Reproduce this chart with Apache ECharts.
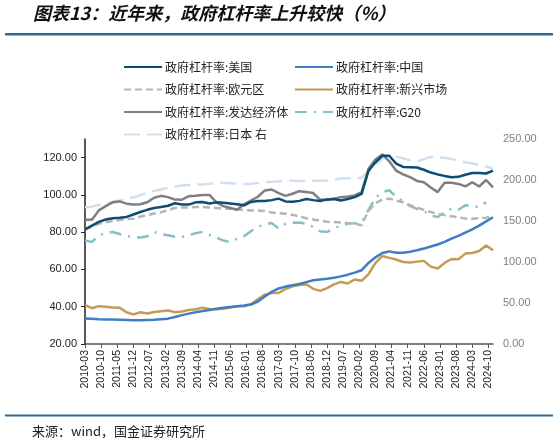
<!DOCTYPE html>
<html>
<head>
<meta charset="utf-8">
<script src="https://cdn.jsdelivr.net/npm/echarts@6.0.0/dist/echarts.min.js"></script>
<style>
  html, body { margin: 0; padding: 0; background: #fff; }
  #main { width: 559px; height: 447px; }
</style>
</head>
<body>
<div id="main"></div>
<script>
// quarterly values, 2010Q1 .. 2024Q4 (60 points)
const usData = [81.5, 83.5, 85.5, 86.8, 87.5, 87.8, 88.2, 89.5, 90.8, 92, 93, 93.5, 94.2, 95.5, 94.8, 94.8,
  96, 96.2, 95.4, 96, 95.8, 95.4, 95, 94.4, 96.2, 96.7, 96.7, 97.2, 98, 96.5, 96.3, 96.8,
  97.8, 97.2, 96.7, 97.6, 97.8, 97, 97.8, 98.8, 100.6, 113, 117.5, 121, 121, 116.8, 115, 114.9,
  114.7, 113.5, 112, 111, 110.2, 109.5, 109.7, 110.8, 111.8, 111.8, 111.5, 113];
const chinaData = [33.7, 33.5, 33.3, 33.2, 33.1, 33, 32.9, 32.8, 32.8, 32.9, 33, 33.3, 33.6, 34.5, 35.5, 36.3,
  37, 37.7, 38.3, 38.9, 39.4, 39.9, 40.3, 40.7, 41.2, 42.8, 45.5, 48, 49.8, 50.8, 51.5, 52.2,
  53.2, 54.2, 54.6, 55, 55.5, 56.3, 57.2, 58.3, 59.6, 63.5, 66.5, 68.8, 69.7, 69, 69, 69.5,
  70.3, 71.2, 72.3, 73.4, 74.8, 76.5, 78, 79.8, 81.5, 83.5, 85.8, 88];
const euroData = [81.5, 83, 84.5, 85.3, 86, 86.5, 87, 87.2, 88.3, 89.2, 90, 90.7, 91.8, 93, 93.2, 93.3,
  93.5, 93.5, 93.3, 93, 92.8, 92.6, 92.3, 91.8, 91.7, 91.7, 91.4, 90.5, 90.2, 89.9, 89.3, 88.5,
  87.5, 86.8, 86.2, 85.6, 85.4, 85.2, 84.9, 84.6, 83.7, 91.5, 95.5, 97.5, 98, 97, 96.1, 94.5,
  93.2, 92, 90.8, 89.8, 89.2, 88.5, 88, 87.3, 87.2, 87.5, 87.8, 88.5];
const emData = [40.9, 39.2, 40.3, 40, 39.6, 39.5, 37, 35.9, 37, 36.4, 37.2, 37.6, 38, 37.1, 37.4, 38.2,
  38.6, 39.5, 38.8, 38.7, 38.9, 39.6, 40.3, 40.3, 41.3, 44, 46.5, 47.3, 47.4, 49.5, 51, 51.6,
  52.1, 49.6, 48.5, 50, 52, 53.3, 52.5, 54.6, 53.9, 57.5, 63.5, 67.2, 66.2, 65.3, 64, 63.7,
  64.2, 64.6, 61.5, 60.5, 63.5, 65.6, 65.5, 68.5, 68.8, 69.9, 72.9, 70.3];
const advData = [86.7, 86.7, 91.7, 94, 96, 96.5, 95.3, 94.9, 95, 96.1, 98.5, 99.5, 98.8, 97.5, 97.4, 99.3,
  99.5, 100, 100, 96, 94, 93, 92, 95, 97, 99, 102.4, 102.9, 101, 99.5, 100.6, 102,
  101.5, 101, 97.5, 97.3, 97.9, 98.8, 99.2, 99.7, 101.5, 114, 119, 121.7, 118, 113, 111, 109.5,
  107.5, 106.8, 104, 101.5, 106.5, 106.5, 105.9, 104.6, 106.8, 104.5, 108, 104.1];
const g20Data = [75.6, 74.7, 78.3, 79.5, 80.1, 79, 78, 77.5, 77.1, 77.8, 80.1, 79, 78.3, 77.6, 77.4, 78.3,
  79.5, 80.1, 78.5, 77.1, 75.5, 74.7, 76.5, 77.8, 80.5, 82.8, 84.2, 84.9, 82, 84.5, 85, 85.2,
  84.5, 82.8, 80.5, 80.1, 82, 83.5, 84.6, 84.8, 85.4, 92, 98.5, 101.5, 102.5, 99, 96.5, 94,
  92.5, 91.3, 89, 88.1, 90.8, 92.6, 92, 94.4, 94, 93.5, 96.1, null];
const japanData = [166.7, 167.5, 169.5, 171, 173.2, 175, 177, 179, 181.5, 184.5, 186.5, 188.5, 190.5, 192, 193.2, 193.9,
  194.3, 194.6, 195.5, 196.5, 196.5, 196, 195.5, 195.2, 195.5, 196.5, 197.6, 198, 198.5, 199.1, 199, 198.8,
  198.8, 199, 199.1, 199.3, 200.5, 202, 202, 201.5, 203, 210, 218, 226, 230.5, 228.5, 226.5, 224,
  222.5, 225.5, 228, 227.8, 227, 225.5, 224, 221.5, 220, 218.5, 216.5, 214.3];

// monthly category axis 2010-03 .. 2024-12, data sits on quarter-end months
const months = [];
for (let y = 2010; y <= 2024; y++) {
  for (let m = 1; m <= 12; m++) {
    if (y === 2010 && m < 3) continue;
    months.push(y + '-' + (m < 10 ? '0' + m : m));
  }
}
function toMonthly(arr) {
  const out = months.map(() => null);
  arr.forEach((v, i) => { out[i * 3] = v; });
  return out;
}

const FONT = '"Noto Sans CJK SC", sans-serif';

function mkLine(name, data, color, type, axis) {
  return {
    name: name,
    type: 'line',
    yAxisIndex: axis || 0,
    data: toMonthly(data),
    connectNulls: true,
    symbol: 'none',
    animation: false,
    lineStyle: { color: color, width: 2.5, type: type || 'solid' },
    itemStyle: { color: color }
  };
}

const legendBase = {
  orient: 'vertical', top: 56, itemWidth: 38, itemHeight: 10, itemGap: 10.5,
  itemStyle: { opacity: 0 },
  textStyle: { fontSize: 12, color: '#222', fontFamily: FONT, padding: [0, 0, 0, -2] }
};

const chart = echarts.init(document.getElementById('main'));
chart.setOption({
  backgroundColor: '#fff',
  textStyle: { fontFamily: FONT },
  graphic: [
    { type: 'text', left: 33, top: 4,
      style: { text: '图表13：近年来，政府杠杆率上升较快（%）', font: 'italic bold 18px ' + FONT, fill: '#111' } },
    { type: 'rect', shape: { x: 5, y: 33, width: 548, height: 2.5 }, style: { fill: '#2f6b8e' } },
    { type: 'rect', shape: { x: 5, y: 414.5, width: 548, height: 2 }, style: { fill: '#2f6b8e' } },
    { type: 'text', left: 32, top: 425,
      style: { text: '来源：wind，国金证券研究所', font: '13px ' + FONT, fill: '#222' } }
  ],
  legend: [
    Object.assign({}, legendBase, { left: 118,
      data: ['政府杠杆率:美国', '政府杠杆率:欧元区', '政府杠杆率:发达经济体', '政府杠杆率:日本 右'] }),
    Object.assign({}, legendBase, { left: 289,
      data: ['政府杠杆率:中国', '政府杠杆率:新兴市场', '政府杠杆率:G20'] })
  ],
  grid: { left: 85, right: 66, top: 139, bottom: 103 },
  xAxis: {
    type: 'category',
    data: months,
    boundaryGap: false,
    axisLine: { lineStyle: { color: '#555', width: 1.5 } },
    axisTick: { interval: 6, length: 4, lineStyle: { color: '#555' } },
    axisLabel: { interval: 6, rotate: 90, fontSize: 10.5, color: '#222', fontFamily: 'Arial, "Liberation Sans", sans-serif', margin: 6 }
  },
  yAxis: [
    { type: 'value', min: 20, max: 130, interval: 20,
      splitLine: { show: false },
      axisLine: { show: true, lineStyle: { color: '#222', width: 1.5 } },
      axisTick: { show: true, length: 4, lineStyle: { color: '#222' } },
      axisLabel: { showMaxLabel: false, fontSize: 11, color: '#222', margin: 8,
        fontFamily: 'Arial, "Liberation Sans", sans-serif',
        formatter: v => v.toFixed(2) } },
    { type: 'value', min: 0, max: 250, interval: 50,
      splitLine: { show: false },
      axisLine: { show: false },
      axisTick: { show: false },
      axisLabel: { fontSize: 11, color: '#808080', margin: 10,
        fontFamily: 'Arial, "Liberation Sans", sans-serif',
        formatter: v => v.toFixed(2) } }
  ],
  series: [
    mkLine('政府杠杆率:日本 右', japanData, '#cfe0f1', [16, 7], 1),
    mkLine('政府杠杆率:G20', g20Data, '#86c0c6', [12, 7, 2, 7]),
    mkLine('政府杠杆率:欧元区', euroData, '#b5b5b5', [7, 4]),
    mkLine('政府杠杆率:新兴市场', emData, '#c49a55'),
    mkLine('政府杠杆率:中国', chinaData, '#3f7dc6'),
    mkLine('政府杠杆率:发达经济体', advData, '#7f7f7f'),
    mkLine('政府杠杆率:美国', usData, '#0b4d73')
  ]
});
</script>
</body>
</html>
